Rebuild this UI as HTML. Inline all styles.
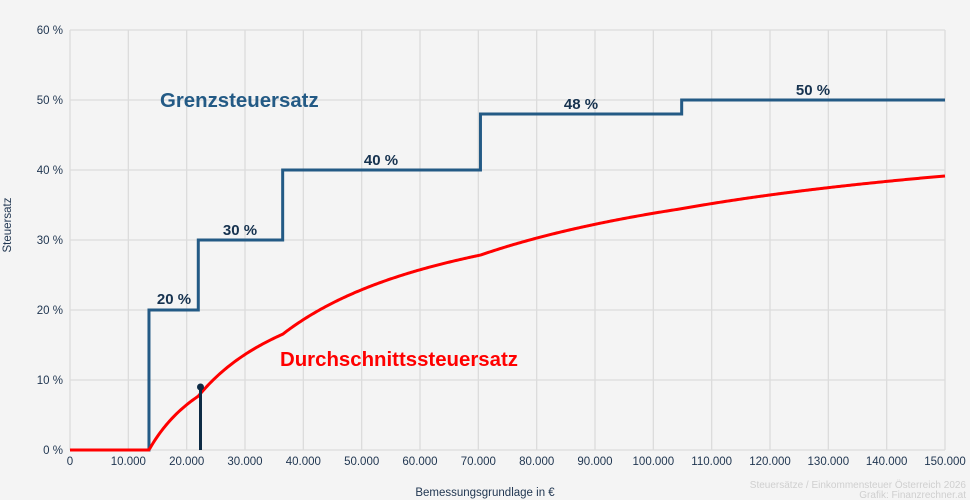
<!DOCTYPE html>
<html><head><meta charset="utf-8"><style>
body{margin:0;background:#f4f4f4;}
svg{display:block;font-family:"Liberation Sans",Arial,sans-serif;}
</style></head><body>
<svg id="s" width="970" height="500" viewBox="0 0 970 500">
<rect width="970" height="500" fill="#f4f4f4"/>
<g id="grid" stroke="#dcdcdc" stroke-width="1.3"></g>
<g id="lab" fill="#1f3550" font-size="11.5"></g>
<path id="step" fill="none" stroke="#235a85" stroke-width="3"/>
<path id="avg" fill="none" stroke="#ff0000" stroke-width="3" stroke-linejoin="round"/>
<line x1="200.5" y1="450" x2="200.5" y2="390" stroke="#0d2b45" stroke-width="3"/>
<circle cx="200.5" cy="387" r="3.5" fill="#0d2b45"/>
<text x="160" y="107" font-size="20.4" font-weight="bold" fill="#235a85">Grenzsteuersatz</text>
<text x="280" y="366" font-size="20.4" font-weight="bold" fill="#ff0000">Durchschnittssteuersatz</text>
<g font-size="15" font-weight="bold" fill="#16324f" text-anchor="middle">
<text x="174" y="304">20 %</text><text x="240" y="235">30 %</text>
<text x="381" y="165">40 %</text><text x="581" y="109">48 %</text><text x="813" y="95">50 %</text>
</g>
<text x="485" y="496" font-size="11.5" fill="#1f3550" text-anchor="middle">Bemessungsgrundlage in €</text>
<text x="11" y="225" font-size="11.5" fill="#1f3550" text-anchor="middle" transform="rotate(-90 11 225)">Steuersatz</text>
<g font-size="10" fill="#cfcfcf" text-anchor="end"><text x="966" y="488">Steuersätze / Einkommensteuer Österreich 2026</text><text x="966" y="498">Grafik: Finanzrechner.at</text></g>
</svg>
<script>
var X=v=>70+v*875/150000, Y=p=>450-p*7;
var g=document.getElementById('grid'),l=document.getElementById('lab'),h='',t='';
for(var i=0;i<=15;i++){var x=X(i*10000);h+=`<line x1="${x}" y1="30" x2="${x}" y2="450"/>`;
t+=`<text x="${x}" y="465" text-anchor="middle">${i?(i*10)+'.000':'0'}</text>`;}
for(var j=0;j<=6;j++){var y=Y(j*10);h+=`<line x1="70" y1="${y}" x2="945" y2="${y}"/>`;
t+=`<text x="63" y="${y+4}" text-anchor="end">${j*10} %</text>`;}
g.innerHTML=h;l.innerHTML=t;
var b=[13539,21992,36458,70365,104859],r=[0,20,30,40,48,50];
var d=`M70 ${Y(0)}`;b.forEach((v,k)=>{d+=` H${X(v)} V${Y(r[k+1])}`});d+=` H945`;
document.getElementById('step').setAttribute('d',d);
function tax(v){var s=0;for(var k=0;k<b.length;k++){var lo=b[k],hi=k<b.length-1?b[k+1]:1e12;if(v>lo)s+=(Math.min(v,hi)-lo)*r[k+1]/100;}return s;}
var p='';for(var v=0;v<=150000;v+=250){var a=v?tax(v)/v*100:0;p+=(v?' L':'M')+X(v).toFixed(2)+' '+Y(a).toFixed(2);}
document.getElementById('avg').setAttribute('d',p);
</script>
</body></html>
